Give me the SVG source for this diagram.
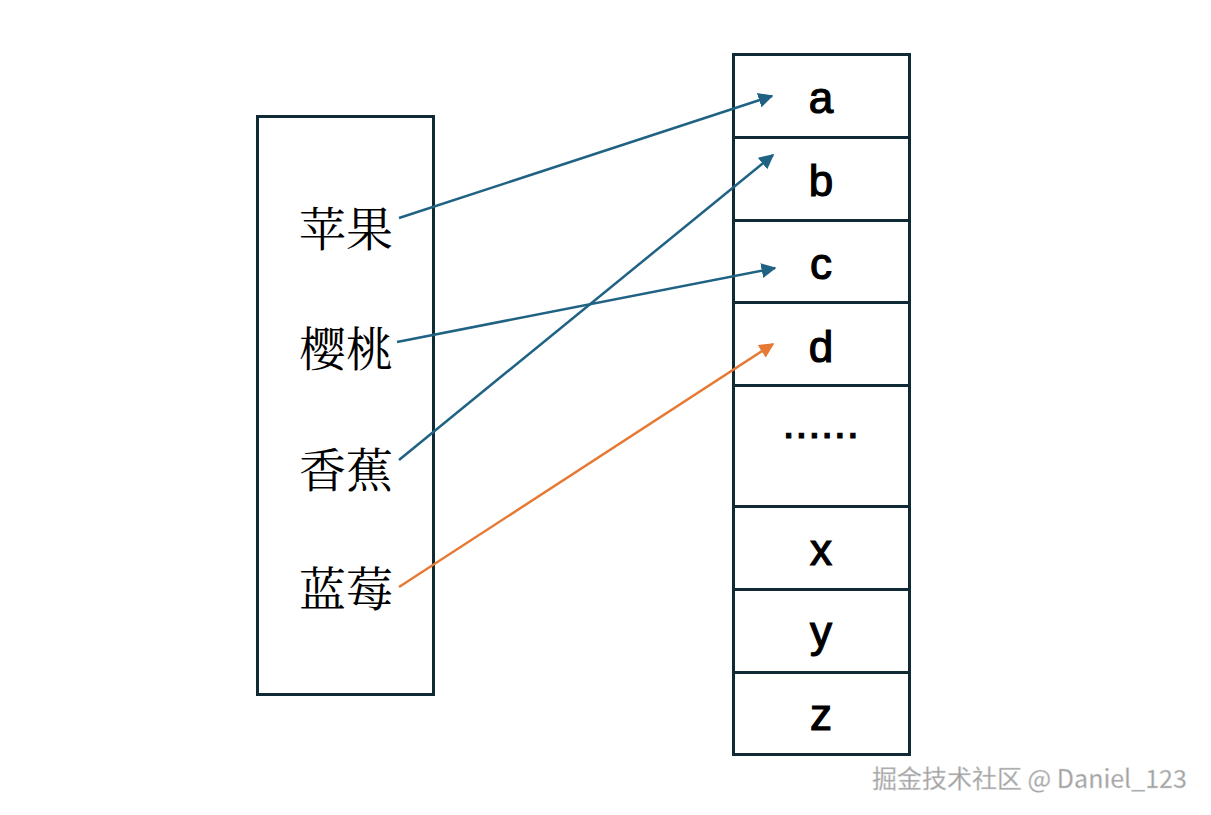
<svg xmlns="http://www.w3.org/2000/svg" width="1211" height="815" viewBox="0 0 1211 815">
<style>
.box{fill:#fff;stroke:#0f2a35;stroke-width:3}
.cn{font-family:"Noto Serif CJK SC","Noto Sans CJK SC",serif;font-size:47px;fill:#000;text-anchor:middle}
.lt{font-family:"Liberation Sans",Arial,sans-serif;font-size:44px;fill:#000;stroke:#000;stroke-width:1.2;text-anchor:middle}
.blue{stroke:#1f6283;stroke-width:2.5;fill:none;marker-end:url(#ab)}
.orange{stroke:#e67a35;stroke-width:2.5;fill:none;marker-end:url(#ao)}
.wm{font-family:"Noto Sans CJK SC","Noto Sans",sans-serif;font-size:25px;fill:#a0a0a0;stroke:#d8d8d8;stroke-width:0.5}
</style>
<defs>
<marker id="ab" viewBox="0 0 10 10" refX="9" refY="5" markerWidth="6" markerHeight="6" markerUnits="strokeWidth" orient="auto"><path d="M0,0 L10,5 L0,10 z" fill="#1f6283"/></marker>
<marker id="ao" viewBox="0 0 10 10" refX="9" refY="5" markerWidth="6" markerHeight="6" markerUnits="strokeWidth" orient="auto"><path d="M0,0 L10,5 L0,10 z" fill="#e67a35"/></marker>
</defs>
<rect width="1211" height="815" fill="#fff"/>
<g id="left">
<rect class="box" x="257.5" y="116.5" width="176" height="578"/>
<text class="cn" x="346" y="246">苹果</text>
<text class="cn" x="346" y="366">樱桃</text>
<text class="cn" x="346" y="487">香蕉</text>
<text class="cn" x="346" y="606">蓝莓</text>
</g>
<g id="cell-a"><rect class="box" x="733.5" y="54.5" width="176" height="83"/><text class="lt" x="821" y="113">a</text></g>
<g id="cell-b"><rect class="box" x="733.5" y="137.5" width="176" height="83"/><text class="lt" x="821" y="196">b</text></g>
<g id="cell-c"><rect class="box" x="733.5" y="220.5" width="176" height="82"/><text class="lt" x="821" y="279">c</text></g>
<g id="cell-d"><rect class="box" x="733.5" y="302.5" width="176" height="83"/><text class="lt" x="821" y="362">d</text></g>
<g id="cell-dots"><rect class="box" x="733.5" y="385.5" width="176" height="121"/><text class="lt" x="821" y="438" style="letter-spacing:0.6px">......</text></g>
<g id="cell-x"><rect class="box" x="733.5" y="506.5" width="176" height="83"/><text class="lt" x="821" y="565">x</text></g>
<g id="cell-y"><rect class="box" x="733.5" y="589.5" width="176" height="83"/><text class="lt" x="821" y="647">y</text></g>
<g id="cell-z"><rect class="box" x="733.5" y="672.5" width="176" height="82"/><text class="lt" x="821" y="730">z</text></g>
<g id="connectors">
<line class="blue" x1="399" y1="218" x2="772" y2="96"/>
<line class="blue" x1="397" y1="342" x2="775" y2="268"/>
<line class="blue" x1="399" y1="460" x2="773" y2="155"/>
<line class="orange" x1="399" y1="587" x2="773" y2="344"/>
</g>
<text class="wm" x="872" y="788">掘金技术社区 @ Daniel_123</text>
</svg>
